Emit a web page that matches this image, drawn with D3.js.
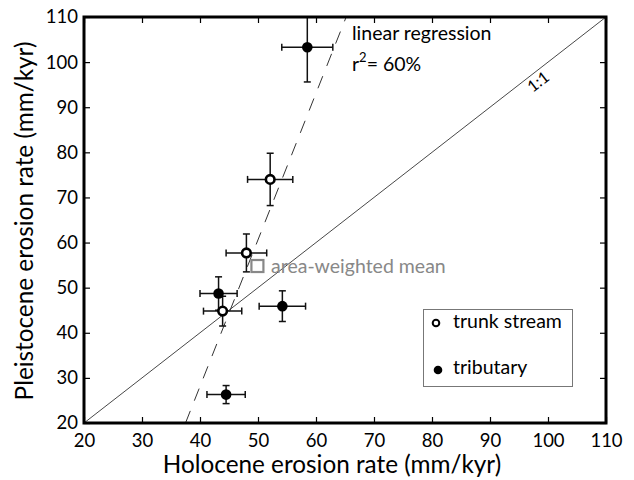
<!DOCTYPE html>
<html><head><meta charset="utf-8">
<script src="https://cdn.jsdelivr.net/npm/d3@7"></script>
<style>body{margin:0;background:#fff}svg{display:block}text{font-family:Lato,"Open Sans",sans-serif}</style>
</head><body><svg id="c" width="634" height="480"></svg>
<script>
const holocene    = [58.5, 52.1, 48.0, 43.2, 43.9, 54.2, 44.5];
const pleistocene = [103.3, 74.0, 57.7, 48.7, 44.8, 45.9, 26.3];
const holoErr     = [4.4, 3.9, 3.5, 3.2, 3.3, 4.0, 3.3];
const pleistErr   = [7.7, 5.8, 4.2, 3.7, 3.3, 3.4, 2.0];
const siteType    = ["tributary","trunk","trunk","tributary","trunk","tributary","tributary"];
const meanPoint   = [49.9, 54.8];
const regressionX = [37.5, 65.2];
const regressionY = [20, 110];
const oneToOne    = [20, 110];
const ticks       = [20,30,40,50,60,70,80,90,100,110];

const svg = d3.select("#c");
const L=84,R=606,T=17,B=423;
const x = d3.scaleLinear().domain([20,110]).range([L,R]);
const y = d3.scaleLinear().domain([20,110]).range([B,T]);

svg.append("clipPath").attr("id","clip").append("rect").attr("x",L).attr("y",T).attr("width",R-L).attr("height",B-T);
const g = svg.append("g").attr("clip-path","url(#clip)");

// 1:1 line
g.append("line").attr("x1",x(oneToOne[0])).attr("y1",y(oneToOne[0])).attr("x2",x(oneToOne[1])).attr("y2",y(oneToOne[1]))
 .attr("stroke","#333").attr("stroke-width",0.9);
// regression
g.append("line").attr("x1",x(regressionX[0])).attr("y1",y(regressionY[0])).attr("x2",x(regressionX[1])).attr("y2",y(regressionY[1]))
 .attr("stroke","#333").attr("stroke-width",1).attr("stroke-dasharray","13,11");

// mean square
g.append("rect").attr("x",x(meanPoint[0])-6).attr("y",y(meanPoint[1])-6).attr("width",12).attr("height",12)
 .attr("fill","none").attr("stroke","#888").attr("stroke-width",2.2);

const data = holocene.map((h,i)=>({h,p:pleistocene[i],eh:holoErr[i],ep:pleistErr[i],t:siteType[i]}));
const cap=3.5;
const eb = g.append("g").attr("stroke","#111").attr("stroke-width",1.5);
data.forEach(d=>{
  const cx=x(d.h), cy=y(d.p);
  const x0=x(d.h-d.eh), x1=x(d.h+d.eh), y0=y(d.p-d.ep), y1=y(d.p+d.ep);
  eb.append("line").attr("x1",x0).attr("x2",x1).attr("y1",cy).attr("y2",cy);
  eb.append("line").attr("x1",x0).attr("x2",x0).attr("y1",cy-cap).attr("y2",cy+cap);
  eb.append("line").attr("x1",x1).attr("x2",x1).attr("y1",cy-cap).attr("y2",cy+cap);
  eb.append("line").attr("x1",cx).attr("x2",cx).attr("y1",y0).attr("y2",y1);
  eb.append("line").attr("x1",cx-cap).attr("x2",cx+cap).attr("y1",y0).attr("y2",y0);
  eb.append("line").attr("x1",cx-cap).attr("x2",cx+cap).attr("y1",y1).attr("y2",y1);
});
data.forEach(d=>{
  if(d.t==="trunk") g.append("circle").attr("cx",x(d.h)).attr("cy",y(d.p)).attr("r",4.3).attr("fill","#fff").attr("stroke","#000").attr("stroke-width",2.6);
  else g.append("circle").attr("cx",x(d.h)).attr("cy",y(d.p)).attr("r",5.3).attr("fill","#000");
});

// axes
const tl=6;
svg.append("g").attr("transform",`translate(0,${B})`).call(d3.axisBottom(x).tickValues(ticks).tickSize(-tl).tickPadding(11).tickFormat(d3.format("d")))
  .call(a=>{a.select(".domain").remove();a.selectAll("text").attr("font-size",18.5).attr("fill","#000").attr("font-family","Lato");a.selectAll("line").attr("stroke-width",1.2);});
svg.append("g").attr("transform",`translate(0,${T})`).call(d3.axisTop(x).tickValues(ticks).tickSize(-tl).tickFormat(""))
  .call(a=>{a.select(".domain").remove();a.selectAll("line").attr("stroke-width",1.2);});
svg.append("g").attr("transform",`translate(${L},0)`).call(d3.axisLeft(y).tickValues(ticks).tickSize(-tl).tickPadding(6).tickFormat(d3.format("d")))
  .call(a=>{a.select(".domain").remove();a.selectAll("text").attr("font-size",18.5).attr("fill","#000").attr("font-family","Lato");a.selectAll("line").attr("stroke-width",1.2);});
svg.append("g").attr("transform",`translate(${R},0)`).call(d3.axisRight(y).tickValues(ticks).tickSize(-tl).tickFormat(""))
  .call(a=>{a.select(".domain").remove();a.selectAll("line").attr("stroke-width",1.2);});

svg.append("rect").attr("x",L).attr("y",T).attr("width",R-L).attr("height",B-T).attr("fill","none").attr("stroke","#000").attr("stroke-width",3);

// titles
svg.append("text").attr("x",332).attr("y",473).attr("text-anchor","middle").attr("font-size",24.3).text("Holocene erosion rate (mm/kyr)");
svg.append("text").attr("transform",`translate(33,221) rotate(-90)`).attr("text-anchor","middle").attr("font-size",24.3).text("Pleistocene erosion rate (mm/kyr)");

// annotations
svg.append("text").attr("x",352).attr("y",40).attr("font-size",19.5).text("linear regression");
const r2=svg.append("text").attr("x",352).attr("y",71).attr("font-size",19.5);
r2.append("tspan").text("r");
r2.append("tspan").attr("dy",-9).attr("font-size",13).text("2");
r2.append("tspan").attr("dy",9).text("= 60%");
svg.append("text").attr("x",271).attr("y",273).attr("font-size",19.5).attr("fill","#888").text("area-weighted mean");
const ang = Math.atan2(y(110)-y(20), x(110)-x(20))*180/Math.PI;
svg.append("text").attr("transform",`translate(${x(97.3)},${y(97.3)}) rotate(${ang})`).attr("dy",15).attr("font-size",16).attr("text-anchor","middle").text("1:1");

// legend
svg.append("rect").attr("x",423.5).attr("y",309.5).attr("width",149).attr("height",77).attr("fill","#fff").attr("stroke","#777").attr("stroke-width",1);
svg.append("circle").attr("cx",436).attr("cy",323).attr("r",3.3).attr("fill","#fff").attr("stroke","#000").attr("stroke-width",2);
svg.append("text").attr("x",453).attr("y",328).attr("font-size",19.5).text("trunk stream");
svg.append("circle").attr("cx",438).attr("cy",370).attr("r",4.3).attr("fill","#000");
svg.append("text").attr("x",453).attr("y",374).attr("font-size",19.5).text("tributary");
</script></body></html>
